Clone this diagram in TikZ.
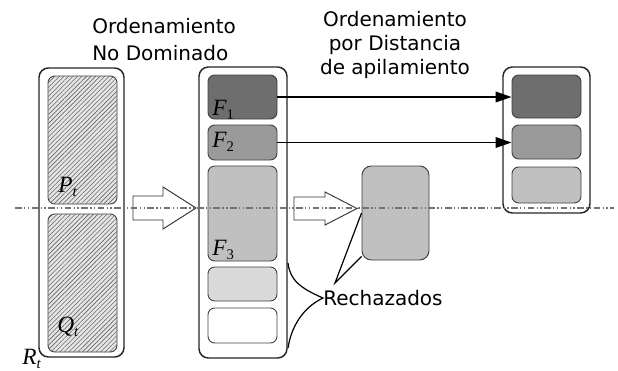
\documentclass[tikz,border=0pt]{standalone}
\usepackage{xcolor}
\usepackage{fontspec}
\setmainfont{DejaVu Sans}
\newfontfamily\tms{Liberation Serif}
\usepackage{tikz}
\usetikzlibrary{arrows.meta,patterns.meta}

\definecolor{fone}{HTML}{6E6E6E}
\definecolor{ftwo}{HTML}{9A9A9A}
\definecolor{fthree}{HTML}{C0C0C0}
\definecolor{ffour}{HTML}{DADADA}

\newcommand{\symb}[2]{{\tms\itshape #1}\raisebox{-3pt}{\tms\fontsize{11}{11}\selectfont #2}}

\begin{document}
\begin{tikzpicture}[x=0.75pt,y=-0.75pt,
	sz/.style 2 args={minimum width=#1*0.75pt, minimum height=#2*0.75pt},
	outer/.style={draw=black!85, line width=1.1pt, rounded corners=7pt, fill=white, inner sep=0pt},
	slot/.style={draw=black!75, line width=0.7pt, rounded corners=5pt, inner sep=0pt},
	hatched/.style={slot, fill=black!10, postaction={pattern={Lines[angle=45,distance=2.4pt,line width=0.45pt]}, pattern color=black!60}},
	lbl/.style={anchor=base west, inner sep=0pt, font=\fontsize{17.5}{17.5}\selectfont},
	title/.style={inner sep=0pt, font=\fontsize{15}{18}\selectfont},
	hollow/.style={draw=black!80, fill=white, line width=0.7pt, line join=miter},
	link/.style={draw=black, line width=1.2pt, -{Triangle[length=12pt,width=8pt]}},
	thinline/.style={draw=black, line width=0.9pt},
	axis/.style={draw=black!55, line width=0.9pt, dash pattern=on 5pt off 1.8pt on 1pt off 1.8pt on 1pt off 1.8pt}]
				\useasboundingbox (0,0) rectangle (618,371);
				% titles
				\node[title, anchor=north west, align=left, font=\fontsize{15}{20}\selectfont] (nodom) at (92,18) {Ordenamiento\\No Dominado};
				\node[title, anchor=north, align=center] (crowd) at (395,11) {Ordenamiento\\por Distancia\\de apilamiento};
				% R_t = P_t + Q_t
				\node[outer, sz={85}{289}] (R) at (81.5,212.5) {};
				\node[hatched, sz={69}{128}] (P) at (82.5,140) {};
				\node[hatched, sz={69}{138}] (Q) at (82.5,283) {};
				\node[lbl] (Plbl) at (58,192) {\symb{P}{\itshape t}};
				\node[lbl] (Qlbl) at (57,332) {\symb{Q}{\itshape t}};
				\node[lbl] (Rlbl) at (22,364) {\symb{R}{\itshape t}};
				% frentes
				\node[outer, sz={88}{291}] (F) at (243,212.5) {};
				\node[slot, fill=fone, sz={69}{44}] (F1) at (242.5,97) {};
				\node[slot, fill=ftwo, sz={69}{35}] (F2) at (242.5,142.5) {};
				\node[slot, fill=fthree, sz={69}{95}] (F3) at (242.5,213.5) {};
				\node[slot, fill=ffour, sz={69}{34}] (F4) at (242.5,284) {};
				\node[slot, fill=white, sz={69}{35}] (F5) at (242.5,325.5) {};
				\node[lbl] (F1lbl) at (212,115) {\symb{F}{1}};
				\node[lbl] (F2lbl) at (212,147) {\symb{F}{2}};
				\node[lbl] (F3lbl) at (212,255) {\symb{F}{3}};
				% nueva poblacion
				\node[outer, sz={87}{146}] (S) at (546.5,140) {};
				\node[slot, fill=fone, sz={69}{43}] (S1) at (546.5,96.5) {};
				\node[slot, fill=ftwo, sz={69}{34}] (S2) at (546.5,142) {};
				\node[slot, fill=fthree, sz={69}{36}] (S3) at (546.5,185) {};
				% rechazados
				\node[slot, fill=fthree, rounded corners=7pt, sz={67}{94}] (rej) at (395.5,213) {};
				\node[title, anchor=base west, font=\fontsize{15}{15}\selectfont] (rech) at (323,305) {Rechazados};
				\coordinate (apex) at (335,283);
				\coordinate (brtop) at (288,263);
				\coordinate (brtip) at (323,298);
				\coordinate (brbot) at (288,348);
				% flechas
				\draw[hollow] (133,196) -- (163,196) -- (163,187) -- (196,208) -- (163,229) -- (163,220) -- (133,220) -- cycle;
				\draw[hollow] (294,197) -- (325,197) -- (325,192) -- (357,208.5) -- (325,225) -- (325,220) -- (294,220) -- cycle;
				\draw[link] (F1.east) -- (F1.east -| S1.west);
				\draw[link] (F2.east) -- (F2.east -| S2.west);
				\draw[thinline] (brtop) .. controls (290,280) and (300,288) .. (brtip) .. controls (302,308) and (291,328) .. (brbot);
				\draw[thinline] (rej.west) -- (apex) -- ([shift={(0,-4)}]rej.south west);
				% eje
				\coordinate (ax0) at (15,208);
				\coordinate (ax1) at (614,208);
				\draw[axis] (ax0) -- (ax1);
			\end{tikzpicture}
\end{document}
